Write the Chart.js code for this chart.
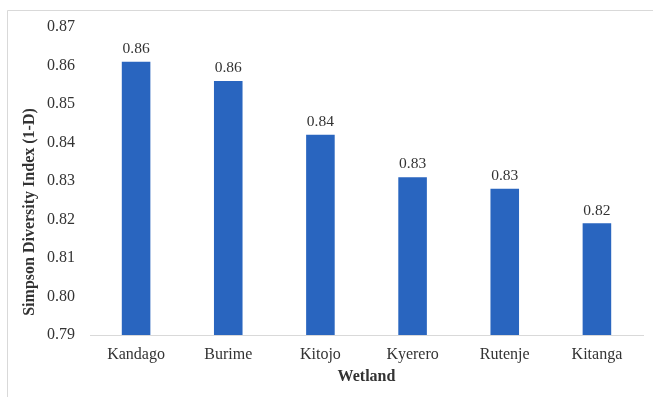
<!DOCTYPE html>
<html>
<head>
<meta charset="utf-8">
<script src="https://cdn.jsdelivr.net/npm/chart.js@4.4.0/dist/chart.umd.min.js"></script>
<style>
  html, body { margin: 0; padding: 0; background: #ffffff; }
  #wrap { position: relative; width: 653px; height: 397px; }
</style>
</head>
<body>
<div id="wrap"><canvas id="c" width="653" height="397"></canvas></div>
<script>
const categories = ["Kandago", "Burime", "Kitojo", "Kyerero", "Rutenje", "Kitanga"];
const simpsonValues = [0.861, 0.856, 0.842, 0.831, 0.828, 0.819];
const yAxisMin = 0.79;
const yAxisMax = 0.87;
const yAxisStep = 0.01;
const xTitle = "Wetland";
const yTitle = "Simpson Diversity Index (1-D)";

const textColor = "#333333";
const serif = "Liberation Serif";

const framePlugin = {
  id: "frame",
  beforeDraw(chart) {
    const ctx = chart.ctx;
    ctx.save();
    ctx.fillStyle = "#ffffff";
    ctx.fillRect(0, 0, chart.width, chart.height);
    ctx.strokeStyle = "#d9d9d9";
    ctx.lineWidth = 1;
    ctx.beginPath();
    ctx.moveTo(7.5, chart.height);
    ctx.lineTo(7.5, 10.5);
    ctx.lineTo(chart.width, 10.5);
    ctx.stroke();
    ctx.restore();
  }
};

const labelPlugin = {
  id: "valueLabels",
  afterDatasetsDraw(chart) {
    const ctx = chart.ctx;
    const meta = chart.getDatasetMeta(0);
    ctx.save();
    ctx.font = "15.5px \"" + serif + "\"";
    ctx.fillStyle = textColor;
    ctx.textAlign = "center";
    ctx.textBaseline = "bottom";
    meta.data.forEach((bar, i) => {
      const v = chart.data.datasets[0].data[i];
      ctx.fillText(v.toFixed(2), bar.x, bar.y - 5);
    });
    ctx.restore();
  }
};

const yTitlePlugin = {
  id: "yTitle",
  afterDraw(chart) {
    const ctx = chart.ctx;
    ctx.save();
    ctx.font = "bold 16px \"" + serif + "\"";
    ctx.fillStyle = textColor;
    ctx.textAlign = "center";
    ctx.textBaseline = "middle";
    ctx.translate(30, 212);
    ctx.rotate(-Math.PI / 2);
    ctx.fillText(yTitle, 0, 0);
    ctx.restore();
  }
};

function build() {
  new Chart(document.getElementById("c"), {
    type: "bar",
    data: {
      labels: categories,
      datasets: [{
        data: simpsonValues,
        backgroundColor: "#2965bf",
        borderWidth: 0,
        categoryPercentage: 1.0,
        barPercentage: 0.31
      }]
    },
    options: {
      responsive: false,
      animation: false,
      devicePixelRatio: 1,
      layout: { padding: { left: 10, top: 27, right: 10, bottom: 7 } },
      plugins: {
        legend: { display: false },
        tooltip: { enabled: false },
        title: { display: false }
      },
      scales: {
        x: {
          grid: { display: false, drawTicks: false },
          border: { display: true, color: "#d9d9d9", width: 1 },
          ticks: { color: textColor, font: { family: serif, size: 16 }, padding: 10 },
          title: {
            display: true, text: xTitle, color: textColor,
            font: { family: serif, size: 16, weight: "bold" },
            padding: { top: 4, bottom: 4 }
          },
          afterFit(scale) { scale.height = 55; }
        },
        y: {
          min: yAxisMin,
          max: yAxisMax,
          grid: { display: false, drawTicks: false },
          border: { display: false },
          ticks: {
            stepSize: yAxisStep,
            color: textColor,
            font: { family: serif, size: 16 },
            padding: 15,
            callback: (v) => Number(v).toFixed(2)
          },
          afterFit(scale) { scale.width = 80; }
        }
      }
    },
    plugins: [framePlugin, labelPlugin, yTitlePlugin]
  });
}

Promise.all([
  document.fonts.load('16px "Liberation Serif"'),
  document.fonts.load('bold 16px "Liberation Serif"')
]).catch(() => {}).then(build);
</script>
</body>
</html>
